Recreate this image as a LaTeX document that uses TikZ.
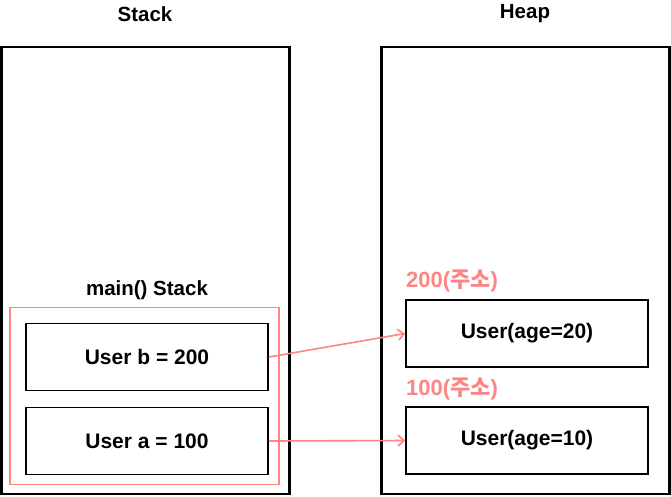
\documentclass[tikz,border=0pt]{standalone}
\usepackage{fontspec}
\setmainfont{Liberation Sans}
\newfontfamily\kor{Noto Sans CJK KR Bold}
\usetikzlibrary{arrows.meta}
\definecolor{rosa}{HTML}{FF8585}
\tikzset{
	caja/.style={draw, line width=1.7pt, minimum width=242pt, minimum height=67pt, inner sep=0pt, font=\bfseries\fontsize{21}{22}\selectfont},
	marco/.style={draw, line width=2.6pt, minimum width=288pt, minimum height=447pt, inner sep=0pt},
	titulo/.style={font=\bfseries\fontsize{20.5}{22}\selectfont},
	flecha/.style={draw=rosa, line width=1.6pt, -{Straight Barb[length=6pt, width=11pt]}},
}
\begin{document}
\begin{tikzpicture}[x=1pt, y=-1pt]
\useasboundingbox (0,0) rectangle (671,496);

% Stack
\node[titulo] (tstack) at (145,14) {Stack};
\node[marco] (stack) at (145.5,270.5) {};
\node[titulo] (tmain) at (147,290) {main() Stack};
\node[draw=rosa, line width=1.9pt, minimum width=269pt, minimum height=177pt, inner sep=0pt] (main) at (144.5,396) {};
\node[caja] (ub) at (147,357) {User b = 200};
\node[caja] (ua) at (147,441) {User a = 100};

% Heap
\node[titulo] (theap) at (525,14) {Heap};
\node[marco] (heap) at (525.5,270.5) {};
\node[titulo, text=rosa, anchor=west, inner xsep=0pt, font=\bfseries\fontsize{22}{22}\selectfont] (d200) at (406,281) {200({\kor 주소})};
\node[caja] (h20) at (527,333.5) {User(age=20)};
\node[titulo, text=rosa, anchor=west, inner xsep=0pt, font=\bfseries\fontsize{22}{22}\selectfont] (d100) at (406,389) {100({\kor 주소})};
\node[caja] (h10) at (527,440.5) {User(age=10)};

% Referencias
\draw[flecha] (ub.east) -- (h20.west);
\draw[flecha] (ua.east) -- (h10.west);
\end{tikzpicture}
\end{document}
